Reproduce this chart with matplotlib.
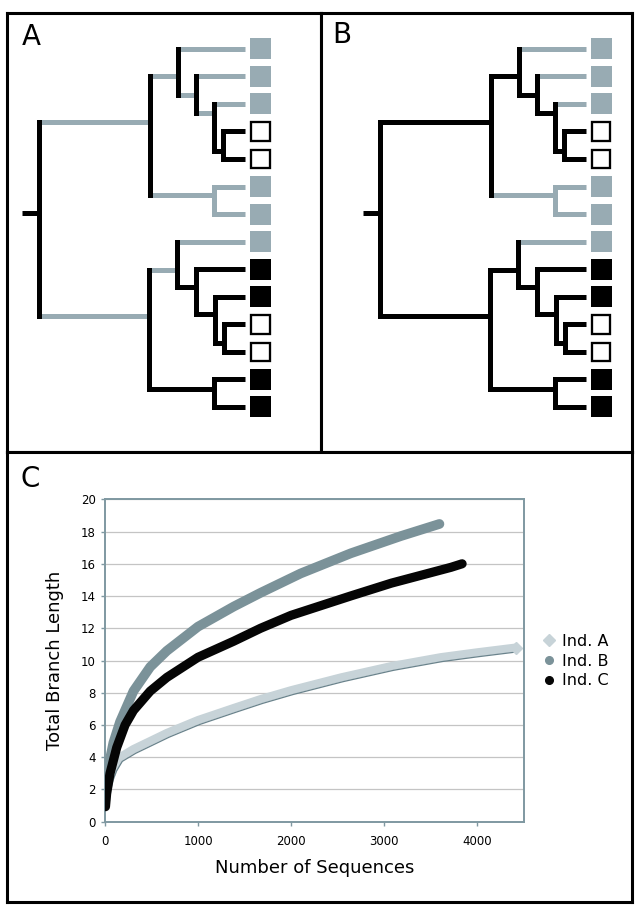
import matplotlib
matplotlib.use("Agg")
import matplotlib.pyplot as plt
import matplotlib.patheffects as pe
from matplotlib.patches import Rectangle
from matplotlib.lines import Line2D

# ---------------- Data: trees A and B (same topology, different colouring)
leaf_state = ['gray', 'gray', 'gray', 'open', 'open', 'gray', 'gray',
              'gray', 'black', 'black', 'open', 'open', 'black', 'black']

children = {
    'root': ['U', 'L'],
    'U': ['U1', 'U67'],
    'U1': [0, 'U2'],
    'U2': [1, 'U3'],
    'U3': [2, 'U4'],
    'U4': [3, 4],
    'U67': [5, 6],
    'L': ['L1', 'L1314'],
    'L1': [7, 'L2'],
    'L2': [8, 'L3'],
    'L3': [9, 'L4'],
    'L4': [10, 11],
    'L1314': [12, 13],
}
# node depth from the root, node row (leaf rows are 0..13)
node_depth = {'root': 0, 'U': 110.5, 'U1': 139, 'U2': 156.5, 'U3': 175,
              'U4': 184, 'U67': 175, 'L': 109.5, 'L1': 138, 'L2': 156.7,
              'L3': 175.5, 'L4': 185, 'L1314': 174.5}
node_row = {'root': 5.96, 'U': 2.65, 'U1': 0.98, 'U2': 1.67, 'U3': 2.32,
            'U4': 3.70, 'U67': 5.29, 'L': 9.70, 'L1': 8.03, 'L2': 8.65,
            'L3': 9.61, 'L4': 10.69, 'L1314': 12.35}
tip_depth = 206
stub_len = 17.5

gray_edges_a = ['U', 'L', 'U1', 0, 'U2', 1, 'U3', 2, 'U67', 5, 6, 'L1', 7]
gray_edges_b = [0, 1, 2, 'U67', 5, 6, 7]

# ---------------- Data: rarefaction curves (panel C)
seq_a = [10, 30, 60, 100, 162, 306, 486, 665, 1000, 1385, 1673, 2000, 2540,
         3080, 3610, 4000, 4420]
len_a = [1.3, 2.1, 2.8, 3.4, 4.0, 4.5, 5.0, 5.5, 6.3, 7.05, 7.6, 8.15, 8.95,
         9.65, 10.2, 10.5, 10.8]

seq_b = [5, 36, 90, 162, 306, 486, 665, 1000, 1385, 1673, 2104, 2643, 3182, 3596]
len_b = [1.8, 3.4, 4.9, 6.2, 8.1, 9.6, 10.6, 12.1, 13.35, 14.2, 15.4, 16.65,
         17.72, 18.47]

seq_c = [5, 18, 54, 126, 216, 306, 486, 665, 1000, 1385, 1673, 2000, 2640,
         3080, 3720, 3840]
len_c = [0.93, 1.76, 3.0, 4.6, 6.0, 6.9, 8.1, 8.95, 10.2, 11.2, 12.0, 12.8,
         14.0, 14.8, 15.78, 16.0]

series_names = ['Ind. A', 'Ind. B', 'Ind. C']
x_ticks = [0, 1000, 2000, 3000, 4000]
y_ticks = list(range(0, 21, 2))

# colours
TREE_GRAY = '#98abb3'
BLACK = '#000000'
COL_A = '#c7d3d8'
COL_A_EDGE = '#6a838c'
COL_B = '#7b9299'
COL_C = '#050505'
FRAME = '#7f98a1'

W, H = 643, 913
fig = plt.figure(figsize=(W / 100, H / 100), dpi=100)


def px_axes(x0, y0, x1, y1):
    # axes from pixel box (top-left origin)
    return fig.add_axes([x0 / W, 1 - y1 / H, (x1 - x0) / W, (y1 - y0) / H])


def panel_frame(ax):
    ax.set_xticks([])
    ax.set_yticks([])
    for s in ax.spines.values():
        s.set_color(BLACK)
        s.set_linewidth(2.2)


def row_of(n):
    return n if isinstance(n, int) else node_row[n]


def depth_of(n):
    return tip_depth if isinstance(n, int) else node_depth[n]


def leaves_under(n):
    if isinstance(n, int):
        return [n]
    out = []
    for c in children[n]:
        out += leaves_under(c)
    return out


def draw_tree(ax, gray_edges):
    lw = 3.6
    ax.plot([-stub_len, 0], [node_row['root']] * 2, color=BLACK, lw=lw,
            solid_capstyle='butt', zorder=2)
    for node, kids in children.items():
        x0 = node_depth[node]
        rows = [row_of(k) for k in kids]
        for k in kids:
            col = TREE_GRAY if k in gray_edges else BLACK
            ax.plot([x0, depth_of(k)], [row_of(k)] * 2, color=col, lw=lw,
                    solid_capstyle='butt', zorder=2)
        all_gray = all(leaf_state[i] == 'gray' for i in leaves_under(node))
        ax.plot([x0, x0], [min(rows), max(rows)],
                color=TREE_GRAY if all_gray else BLACK, lw=lw,
                solid_capstyle='projecting', zorder=3)
    # leaf boxes
    sq_x, sq_w, sq_h = 210.5, 21, 0.762
    for i, st in enumerate(leaf_state):
        if st == 'open':
            inset_x, inset_y = 1.15, 1.15 / 27.55
            ax.add_patch(Rectangle((sq_x + inset_x, i - sq_h / 2 + inset_y),
                                   sq_w - 2 * inset_x, sq_h - 2 * inset_y,
                                   facecolor='white', edgecolor=BLACK, lw=1.66,
                                   zorder=3))
        else:
            ax.add_patch(Rectangle((sq_x, i - sq_h / 2), sq_w, sq_h,
                                   facecolor=TREE_GRAY if st == 'gray' else BLACK,
                                   edgecolor='none', zorder=3))


row_top = (13 - 48.8) / 27.55
row_bot = (452 - 48.8) / 27.55

# Panel A
ax_a = px_axes(7, 13, 321, 452)
draw_tree(ax_a, gray_edges_a)
ax_a.set_xlim(7 - 39.3, 321 - 39.3)
ax_a.set_ylim(row_bot, row_top)
panel_frame(ax_a)
ax_a.text(15 / 314, 1 - 32 / 439, 'A', transform=ax_a.transAxes,
          fontsize=20, va='baseline', ha='left')

# Panel B
ax_b = px_axes(321, 13, 632, 452)
draw_tree(ax_b, gray_edges_b)
ax_b.set_xlim(321 - 380, 632 - 380)
ax_b.set_ylim(row_bot, row_top)
panel_frame(ax_b)
ax_b.text(11 / 311, 1 - 30 / 439, 'B', transform=ax_b.transAxes,
          fontsize=20, va='baseline', ha='left')

# Panel C frame
ax_cf = px_axes(7, 452, 632, 902)
panel_frame(ax_cf)
ax_cf.text(13 / 625, 1 - 35 / 450, 'C', transform=ax_cf.transAxes,
           fontsize=20, va='baseline', ha='left')

# Panel C chart
ax = px_axes(105, 499.3, 523.5, 821.7)
ax.set_xlim(0, 4500)
ax.set_ylim(0, 20)

line_a, = ax.plot(seq_a, len_a, color=COL_A, lw=6.0, solid_capstyle='round',
                  solid_joinstyle='round', zorder=3)
line_a.set_path_effects([pe.Normal(),
                         pe.SimpleLineShadow(offset=(1.6, -3.0),
                                             shadow_color=COL_A_EDGE,
                                             alpha=1, rho=1, linewidth=0.9)])
ax.plot(seq_a[-1:], len_a[-1:], marker='D', color=COL_A, ms=6.5, ls='none',
        zorder=3)
ax.plot(seq_b, len_b, color=COL_B, lw=7.0, solid_capstyle='round',
        solid_joinstyle='round', zorder=4)
ax.plot(seq_c, len_c, color=COL_C, lw=6.6, solid_capstyle='round',
        solid_joinstyle='round', zorder=5)

ax.set_xticks(x_ticks)
ax.set_yticks(y_ticks)
ax.tick_params(direction='out', length=2.6, width=1.0, color=FRAME,
               labelsize=8.5, pad=4)
ax.tick_params(axis='x', pad=7)
ax.yaxis.grid(True, color='#c4c4c4', lw=0.9)
ax.set_axisbelow(True)
for s in ax.spines.values():
    s.set_color(FRAME)
    s.set_linewidth(1.4)

ax.set_xlabel('Number of Sequences', fontsize=13)
ax.set_ylabel('Total Branch Length', fontsize=13)
ax.xaxis.set_label_coords(0.5, (821.7 - 868) / 322.4)
ax.xaxis.label.set_va('center')
ax.yaxis.set_label_coords((55 - 105) / 418.5, 0.5)
ax.yaxis.label.set_va('center')

handles = [
    Line2D([], [], marker='D', ls='none', color=COL_A, ms=6),
    Line2D([], [], marker='o', ls='none', color=COL_B, ms=5.5),
    Line2D([], [], marker='o', ls='none', color=COL_C, ms=5.5),
]
fig.legend(handles, series_names, loc='center left',
           bbox_to_anchor=(542.6 / W, 1 - 661 / H), bbox_transform=fig.transFigure,
           frameon=False, borderpad=0, borderaxespad=0, handlelength=0.8,
           handletextpad=0.4, labelspacing=0.3, fontsize=11.5)

fig.savefig('out.png', dpi=100, facecolor='white')
